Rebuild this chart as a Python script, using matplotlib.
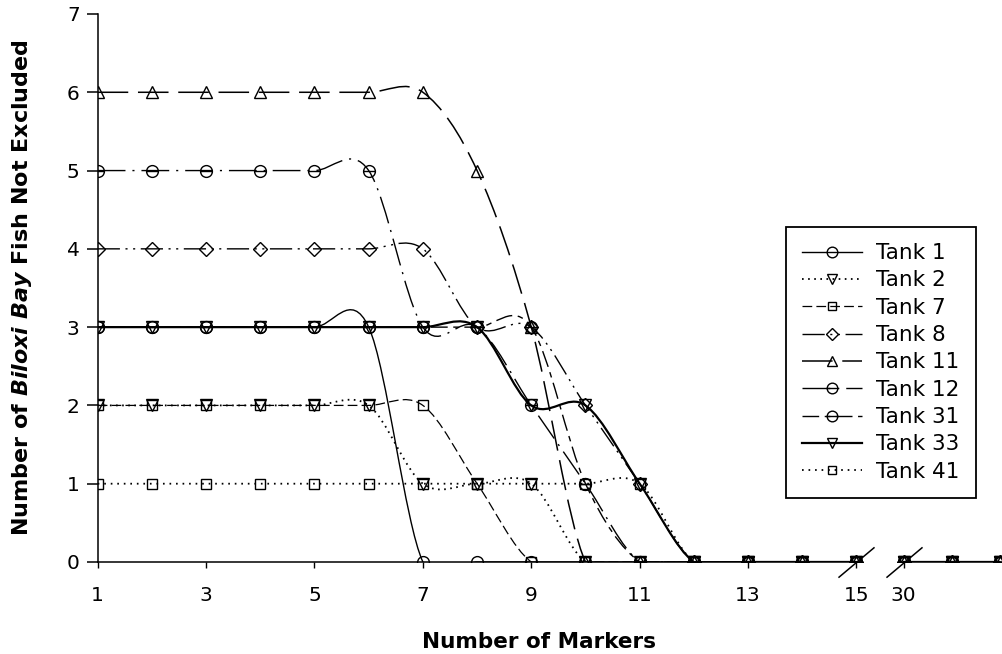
import numpy as np
import matplotlib
matplotlib.use('Agg')
import matplotlib.pyplot as plt
from matplotlib.path import Path
from matplotlib.patches import PathPatch
from matplotlib.lines import Line2D

plt.rcParams['font.family'] = ['DejaVu Sans']
plt.rcParams['lines.scale_dashes'] = False
plt.rcParams['mathtext.fontset'] = 'custom'
plt.rcParams['mathtext.it'] = 'DejaVu Sans:italic:bold'
plt.rcParams['mathtext.rm'] = 'DejaVu Sans:bold'

# number of markers (category axis, broken between 15 and 30)
markers_n = [1, 2, 3, 4, 5, 6, 7, 8, 9, 10, 11, 12, 13, 14, 15, 30, 31, 32]

tank_1  = [3, 3, 3, 3, 3, 3, 0, 0, 0, 0, 0, 0, 0, 0, 0, 0, 0, 0]
tank_2  = [2, 2, 2, 2, 2, 2, 1, 1, 1, 0, 0, 0, 0, 0, 0, 0, 0, 0]
tank_7  = [2, 2, 2, 2, 2, 2, 2, 1, 0, 0, 0, 0, 0, 0, 0, 0, 0, 0]
tank_8  = [4, 4, 4, 4, 4, 4, 4, 3, 3, 2, 1, 0, 0, 0, 0, 0, 0, 0]
tank_11 = [6, 6, 6, 6, 6, 6, 6, 5, 3, 0, 0, 0, 0, 0, 0, 0, 0, 0]
tank_12 = [5, 5, 5, 5, 5, 5, 3, 3, 2, 1, 0, 0, 0, 0, 0, 0, 0, 0]
tank_31 = [3, 3, 3, 3, 3, 3, 3, 3, 3, 1, 0, 0, 0, 0, 0, 0, 0, 0]
tank_33 = [3, 3, 3, 3, 3, 3, 3, 3, 2, 2, 1, 0, 0, 0, 0, 0, 0, 0]
tank_41 = [1, 1, 1, 1, 1, 1, 1, 1, 1, 1, 1, 0, 0, 0, 0, 0, 0, 0]

x_ticklabels = ['1', '3', '5', '7', '9', '11', '13', '15', '30']


def xpos(n):
    # squeeze the part after the break
    return n if n <= 15 else 15.87 + (n - 30) * 0.89


def smooth_path(xs, ys):
    pts = np.column_stack([xs, ys]).astype(float)
    verts = [pts[0]]
    codes = [Path.MOVETO]
    n = len(pts)
    for i in range(n - 1):
        p0 = pts[max(i - 1, 0)]
        p1 = pts[i]
        p2 = pts[i + 1]
        p3 = pts[min(i + 2, n - 1)]
        verts += [p1 + (p2 - p0) / 6, p2 - (p3 - p1) / 6, p2]
        codes += [Path.CURVE4] * 3
    return Path(verts, codes)


theta = Path.make_compound_path(Path.unit_circle(), Path([(-1, 0), (1, 0)]))

series = [
    ('Tank 1', tank_1, dict(marker='o', ms=8.5, ls='-', lw=1.0)),
    ('Tank 2', tank_2, dict(marker='v', ms=8.5, ls=(0, (1.2, 3.2)), lw=1.3)),
    ('Tank 7', tank_7, dict(marker='s', ms=7, ls=(0, (7, 3)), lw=0.9)),
    ('Tank 8', tank_8, dict(marker='D', ms=7, ls=(0, (16, 4, 1.5, 4, 1.5, 4)), lw=1.0)),
    ('Tank 11', tank_11, dict(marker='^', ms=8.5, ls=(0, (22, 7)), lw=1.1)),
    ('Tank 12', tank_12, dict(marker=theta, ms=8.5, ls=(0, (20, 5, 1.5, 5)), lw=1.0)),
    ('Tank 31', tank_31, dict(marker=theta, ms=8.5, ls=(0, (12, 4, 4, 4)), lw=1.0)),
    ('Tank 33', tank_33, dict(marker='v', ms=8.5, ls='-', lw=1.6)),
    ('Tank 41', tank_41, dict(marker='s', ms=7, ls=(0, (1.2, 3.5)), lw=1.3)),
]

fig = plt.figure(figsize=(10.02, 6.54), dpi=100)
ax = fig.add_axes([0.0975, 0.1407, 0.9025, 0.8379])

xs = np.array([xpos(n) for n in markers_n])
# split into segments at the axis break
breaks = [i + 1 for i in range(len(markers_n) - 1) if markers_n[i + 1] - markers_n[i] > 1]
seg_bounds = [0] + breaks + [len(markers_n)]

handles = []
for name, vals, st in series:
    vals = np.array(vals, dtype=float)
    for a, b in zip(seg_bounds[:-1], seg_bounds[1:]):
        patch = PathPatch(smooth_path(xs[a:b], vals[a:b]), facecolor='none',
                          edgecolor='black', lw=st['lw'], ls=st['ls'],
                          capstyle='butt', zorder=2)
        ax.add_patch(patch)
    ax.plot(xs, vals, ls='none', marker=st['marker'], ms=st['ms'],
            mfc='none', mec='black', mew=1.0, zorder=3)
    handles.append(Line2D([], [], color='black', lw=st['lw'], ls=st['ls'],
                          marker=st['marker'], ms=st['ms'] * 0.9, mfc='none',
                          mec='black', mew=1.0, label=name))

xmax = 1 + 904.3 / 54.2
ax.set_xlim(1, xmax)
ax.set_ylim(0, 7)

# broken bottom axis
ax.spines['bottom'].set_visible(False)
ax.spines['top'].set_visible(False)
ax.spines['right'].set_visible(False)
ax.spines['left'].set_linewidth(1.1)
ax.plot([xs[0], xpos(15)], [0, 0], color='black', lw=1.1, clip_on=False, zorder=2)
ax.plot([xpos(30), xmax], [0, 0], color='black', lw=1.1, clip_on=False, zorder=2)
ax.plot([xpos(15), xpos(30)], [0, 0], ls='none', marker=[(-1, -0.84), (1, 0.84)],
        ms=26, mec='black', mew=1.1, clip_on=False, zorder=4)

tick_pos = [xpos(int(t)) for t in x_ticklabels]
ax.set_xticks(tick_pos)
ax.set_xticklabels(x_ticklabels)
ax.set_yticks(range(0, 8))
ax.tick_params(axis='x', direction='out', length=4.5, width=1.0, pad=13, labelsize=14.5)
ax.tick_params(axis='y', direction='out', length=8, width=1.1, pad=5, labelsize=14.5)

ax.set_ylabel(r'Number of $\mathit{Biloxi\ Bay}$ Fish Not Excluded',
              fontsize=16, fontweight='bold')
ax.yaxis.set_label_coords(-0.0704, 0.5)
fig.text(0.538, 1 - 648 / 654, 'Number of Markers', ha='center', va='baseline',
         fontsize=15.5, fontweight='bold')

leg = ax.legend(handles=handles, loc='upper left', bbox_to_anchor=(786 / 1002, 1 - 227 / 654),
                bbox_transform=fig.transFigure, borderaxespad=0, fontsize=15.5,
                frameon=True, fancybox=False, edgecolor='black', framealpha=1,
                handlelength=2.8, handletextpad=0.65, borderpad=0.75, labelspacing=0.34,
                numpoints=1)
leg.get_frame().set_linewidth(1.3)

fig.savefig('out.png', dpi=100, facecolor='white')
